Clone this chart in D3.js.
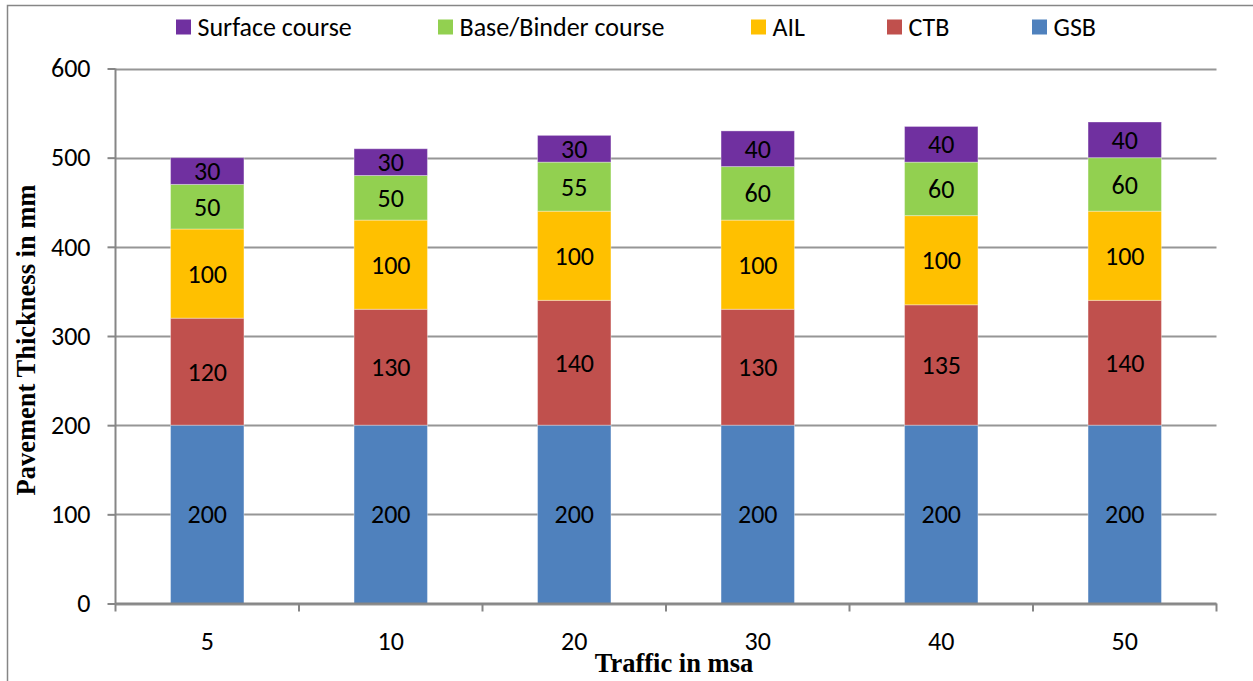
<!DOCTYPE html>
<html><head><meta charset="utf-8">
<script src="https://cdn.jsdelivr.net/npm/d3@7"></script>
<style>body{margin:0;background:#fff}svg{display:block}</style>
</head><body>
<svg id="c" width="1253" height="681"></svg>
<script>
const categories = ["5","10","20","30","40","50"];
const gsb = [200,200,200,200,200,200];
const ctb = [120,130,140,130,135,140];
const ail = [100,100,100,100,100,100];
const baseBinder = [50,50,55,60,60,60];
const surface = [30,30,30,40,40,40];
const seriesNames = ["GSB","CTB","AIL","Base/Binder course","Surface course"];
const seriesColors = ["#4F81BD","#C0504D","#FFC000","#92D050","#7030A0"];
const yTicks = [0,100,200,300,400,500,600];
const legendOrder = ["Surface course","Base/Binder course","AIL","CTB","GSB"];

(function(){
const seriesValues = [gsb, ctb, ail, baseBinder, surface];
const rows = categories.map((c,i)=>{const r={cat:c}; seriesNames.forEach((s,j)=>r[s]=seriesValues[j][i]); return r;});
const stack = d3.stack().keys(seriesNames)(rows);

const svg = d3.select("#c");
const font = "Calibri, Carlito, 'Liberation Sans', Arial, sans-serif";
const fs = 26;
const pL=115.5, pR=1216.5, pT=68.5, pB=603.5;
const x = d3.scaleBand().domain(categories).range([pL,pR]).paddingInner(0.6).paddingOuter(0.3);
const y = d3.scaleLinear().domain([0,600]).range([pB,pT]);
const color = d3.scaleOrdinal().domain(seriesNames).range(seriesColors);

svg.append("rect").attr("x",7.5).attr("y",5.5).attr("width",1260).attr("height",700)
  .attr("fill","none").attr("stroke","#868686").attr("stroke-width",1.5);

svg.append("g").selectAll("line").data(yTicks).join("line")
  .attr("x1",pL).attr("x2",pR).attr("y1",d=>Math.round(y(d))+0.5).attr("y2",d=>Math.round(y(d))+0.5)
  .attr("stroke","#969696").attr("stroke-width",2);

const g = svg.append("g");
stack.forEach(layer=>{
  g.append("g").attr("fill",color(layer.key)).selectAll("rect").data(layer).join("rect")
    .attr("x",d=>x(d.data.cat)).attr("width",x.bandwidth())
    .attr("y",d=>y(d[1])).attr("height",d=>y(d[0])-y(d[1]))
    .attr("stroke","rgba(255,255,255,0.35)").attr("stroke-width",1);
});
stack.forEach(layer=>{
  g.append("g").selectAll("text").data(layer).join("text")
    .attr("x",d=>x(d.data.cat)+x.bandwidth()/2).attr("y",d=>y((d[0]+d[1])/2))
    .attr("dy","0.35em").attr("text-anchor","middle")
    .attr("font-family",font).attr("font-size",fs).attr("fill","#000")
    .text(d=>d[1]-d[0]);
});

const yAxis = d3.axisLeft(y).tickValues(yTicks).tickSize(8).tickPadding(17);
const ya = svg.append("g").attr("transform",`translate(${pL},0)`).call(yAxis);
ya.select(".domain").attr("stroke","#868686").attr("stroke-width",2).attr("d",`M0,${pT}V${pB}`);
ya.selectAll(".tick line").attr("stroke","#868686").attr("stroke-width",2);
ya.selectAll("text").attr("font-family",font).attr("font-size",fs).attr("fill","#000");

const xa = svg.append("g").attr("transform",`translate(0,${pB})`);
xa.append("line").attr("x1",pL).attr("x2",pR).attr("stroke","#868686").attr("stroke-width",2);
const step = (pR-pL)/categories.length;
xa.selectAll("line.t").data(d3.range(categories.length+1)).join("line").attr("class","t")
  .attr("x1",i=>pL+i*step).attr("x2",i=>pL+i*step).attr("y1",0).attr("y2",8)
  .attr("stroke","#868686").attr("stroke-width",2);
xa.selectAll("text").data(categories).join("text")
  .attr("x",d=>x(d)+x.bandwidth()/2).attr("y",37).attr("dy","0.35em").attr("text-anchor","middle")
  .attr("font-family",font).attr("font-size",fs).attr("fill","#000").text(d=>d);

svg.append("text").attr("x",674).attr("y",672).attr("text-anchor","middle")
  .attr("font-family","'Times New Roman','Liberation Serif',serif").attr("font-weight","bold").attr("font-size",26.5)
  .text("Traffic in msa");
svg.append("text").attr("transform","translate(35,340) rotate(-90)").attr("text-anchor","middle")
  .attr("font-family","'Times New Roman','Liberation Serif',serif").attr("font-weight","bold").attr("font-size",26.5)
  .text("Pavement Thickness in mm");

const legX = {"Surface course":176,"Base/Binder course":438,"AIL":751,"CTB":887,"GSB":1032};
const lg = svg.append("g");
legendOrder.forEach(name=>{
  lg.append("rect").attr("x",legX[name]).attr("y",19.5).attr("width",15).attr("height",15).attr("fill",color(name));
  lg.append("text").attr("x",legX[name]+21.5).attr("y",27).attr("dy","0.35em")
    .attr("font-family",font).attr("font-size",fs).attr("fill","#000").text(name);
});
})();
</script>
</body></html>
